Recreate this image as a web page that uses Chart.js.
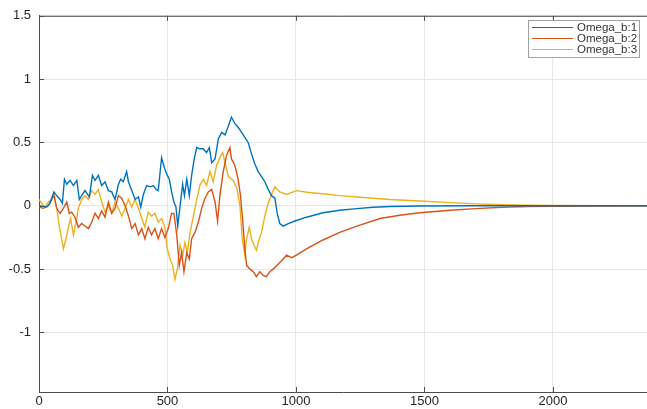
<!DOCTYPE html>
<html>
<head>
<meta charset="utf-8">
<script src="https://cdn.jsdelivr.net/npm/chart.js@4.4.1/dist/chart.umd.min.js"></script>
<style>
  body { margin: 0; background: #fff; }
  canvas { display: block; }
</style>
</head>
<body>
<canvas id="myChart" width="647" height="409"></canvas>
<script>
const seriesNames = ['Omega_b:1', 'Omega_b:2', 'Omega_b:3']
const seriesColors = ['#0072BD', '#D95319', '#EDB120']

const xTicks = [0, 500, 1000, 1500, 2000]
const yTicks = [-1, -0.5, 0, 0.5, 1, 1.5]

// [sample, value]
const omega1 = [
  [0, 0], [30, -0.01], [43, 0.02], [58, 0.11], [69, 0.08], [82, 0.05], [91, 0.02], [99, 0.21],
  [108, 0.17], [121, 0.2], [134, 0.16], [147, 0.2], [157, 0.05], [166, 0.08], [179, 0.12],
  [196, 0.07], [208, 0.24], [218, 0.2], [231, 0.24], [244, 0.16], [257, 0.19], [270, 0.12],
  [283, 0.11], [296, 0.05], [309, 0.17], [318, 0.21], [328, 0.19], [341, 0.27], [348, 0.19],
  [361, 0.12], [374, 0.05], [387, 0.07], [396, -0.01], [406, 0.09], [419, 0.16], [434, 0.15],
  [445, 0.16], [455, 0.13], [464, 0.12], [477, 0.38], [488, 0.3], [497, 0.25], [507, 0.21],
  [516, 0.11], [525, 0.03], [533, -0.01], [540, -0.16], [549, 0], [559, 0.17], [566, 0.08],
  [575, 0.21], [585, 0.08], [594, 0.24], [604, 0.37], [614, 0.46], [626, 0.45], [639, 0.45],
  [652, 0.42], [663, 0.46], [672, 0.34], [685, 0.37], [698, 0.53], [711, 0.58], [724, 0.56],
  [737, 0.63], [749, 0.7], [762, 0.65], [775, 0.62], [795, 0.56], [814, 0.5], [827, 0.41],
  [840, 0.33], [853, 0.27], [866, 0.23], [879, 0.19], [892, 0.13], [905, 0.08], [918, 0.06],
  [927, -0.06], [937, -0.14], [950, -0.16], [970, -0.14], [996, -0.12], [1041, -0.09],
  [1105, -0.055], [1170, -0.035], [1237, -0.022], [1300, -0.012], [1366, -0.006],
  [1480, -0.002], [1700, 0], [2366, 0]
]

const omega2 = [
  [0, -0.01], [17, -0.02], [36, 0], [49, 0.05], [58, 0.08], [69, -0.02], [82, -0.06], [95, -0.02],
  [108, 0.03], [118, -0.06], [127, -0.05], [140, -0.09], [153, -0.17], [166, -0.14], [179, -0.16],
  [192, -0.18], [205, -0.13], [218, -0.06], [231, -0.1], [244, -0.04], [257, -0.09], [270, 0.03],
  [283, -0.06], [296, -0.02], [309, 0.08], [322, 0.06], [335, 0], [348, -0.08], [361, -0.18],
  [374, -0.14], [387, -0.23], [400, -0.18], [412, -0.26], [425, -0.17], [438, -0.23], [451, -0.18],
  [464, -0.26], [477, -0.18], [490, -0.25], [503, -0.18], [516, -0.06], [525, -0.06], [536, -0.23],
  [546, -0.47], [555, -0.37], [564, -0.52], [575, -0.37], [585, -0.42], [594, -0.26], [607, -0.21],
  [620, -0.13], [633, -0.02], [646, 0.06], [659, 0.11], [672, 0.13], [685, 0.03], [695, -0.12],
  [704, 0.08], [717, 0.27], [730, 0.4], [743, 0.46], [749, 0.37], [762, 0.32], [775, 0.21],
  [784, 0.08], [792, -0.1], [801, -0.34], [808, -0.47], [821, -0.5], [834, -0.52], [846, -0.56],
  [859, -0.52], [872, -0.55], [885, -0.56], [898, -0.52], [911, -0.5], [931, -0.46], [950, -0.42],
  [963, -0.39], [983, -0.41], [1002, -0.39], [1041, -0.34], [1105, -0.27], [1170, -0.21],
  [1237, -0.16], [1327, -0.1], [1404, -0.075], [1482, -0.055], [1600, -0.035], [1700, -0.022],
  [1800, -0.012], [1900, -0.006], [2000, -0.003], [2200, -0.001], [2366, 0]
]

const omega3 = [
  [0, 0.05], [10, 0.02], [23, -0.01], [36, 0.03], [49, 0.05], [58, 0.09], [69, -0.02], [79, -0.16],
  [88, -0.26], [95, -0.34], [105, -0.26], [114, -0.17], [123, -0.1], [134, -0.23], [144, -0.13],
  [153, -0.02], [166, 0.05], [179, 0.08], [192, 0.05], [205, 0.12], [218, 0.09], [231, 0.13],
  [244, 0.03], [257, -0.05], [270, 0], [283, -0.06], [296, 0.03], [309, -0.02], [322, -0.08],
  [335, -0.02], [348, 0.05], [361, -0.01], [374, 0.05], [387, -0.02], [400, -0.1], [412, -0.17],
  [425, -0.05], [438, -0.08], [451, -0.06], [464, -0.13], [477, -0.1], [490, -0.17], [499, -0.34],
  [510, -0.42], [520, -0.47], [529, -0.58], [538, -0.5], [549, -0.31], [559, -0.39], [568, -0.29],
  [577, -0.37], [588, -0.21], [601, -0.08], [614, 0.05], [626, 0.16], [639, 0.21], [652, 0.16],
  [665, 0.27], [678, 0.19], [691, 0.32], [704, 0.38], [715, 0.42], [724, 0.34], [737, 0.23],
  [756, 0.2], [771, 0.13], [782, 0], [791, -0.26], [801, -0.39], [808, -0.26], [818, -0.17],
  [827, -0.26], [836, -0.31], [846, -0.35], [857, -0.26], [866, -0.21], [879, -0.08], [892, 0.02],
  [905, 0.09], [918, 0.15], [937, 0.11], [963, 0.09], [1002, 0.12], [1050, 0.105], [1105, 0.095],
  [1170, 0.08], [1237, 0.07], [1300, 0.06], [1366, 0.05], [1482, 0.038], [1600, 0.025],
  [1700, 0.015], [1800, 0.008], [1900, 0.004], [2000, 0.002], [2200, 0], [2366, 0]
]

const seriesData = [omega1, omega2, omega3]

const axisColor = '#4d4d4d'
const gridColor = '#e6e6e6'
const font = { family: "'Liberation Sans', Arial, sans-serif", size: 13 }

// MATLAB style box: top border, inward tick marks, legend inside the axes
const boxPlugin = {
  id: 'box',
  afterDraw(chart) {
    const { ctx, chartArea: a, scales } = chart
    ctx.save()
    ctx.strokeStyle = axisColor
    ctx.lineWidth = 1
    ctx.beginPath()
    ctx.moveTo(a.left, a.top + 0.5)
    ctx.lineTo(a.right, a.top + 0.5)
    xTicks.forEach(v => {
      const x = Math.round(scales.x.getPixelForValue(v)) + 0.5
      ctx.moveTo(x, a.bottom)
      ctx.lineTo(x, a.bottom - 5)
      ctx.moveTo(x, a.top)
      ctx.lineTo(x, a.top + 5)
    })
    yTicks.forEach(v => {
      const y = Math.round(scales.y.getPixelForValue(v)) + 0.5
      ctx.moveTo(a.left, y)
      ctx.lineTo(a.left + 5, y)
    })
    ctx.stroke()

    // legend
    const lx = 528, ly = 20, lw = 111, lh = 37
    ctx.fillStyle = '#fff'
    ctx.fillRect(lx, ly, lw, lh)
    ctx.strokeStyle = '#a0a0a0'
    ctx.strokeRect(lx + 0.5, ly + 0.5, lw, lh)
    ctx.font = "11.5px 'Liberation Sans', Arial, sans-serif"
    ctx.textBaseline = 'middle'
    chart.data.datasets.forEach((ds, i) => {
      const y = ly + 7.5 + i * 11
      ctx.strokeStyle = ds.borderColor
      ctx.lineWidth = 1.2
      ctx.beginPath()
      ctx.moveTo(lx + 4, y)
      ctx.lineTo(lx + 45, y)
      ctx.stroke()
      ctx.fillStyle = '#333'
      ctx.fillText(ds.label, lx + 49, y)
    })
    ctx.restore()
  }
}

new Chart(document.getElementById('myChart'), {
  type: 'line',
  data: {
    datasets: seriesNames.map((name, i) => ({
      label: name,
      data: seriesData[i].map(([x, y]) => ({ x, y })),
      borderColor: seriesColors[i],
      borderWidth: 1.4,
      pointRadius: 0,
      tension: 0,
      fill: false
    }))
  },
  options: {
    responsive: false,
    animation: false,
    devicePixelRatio: 1,
    layout: { padding: { top: 15, right: 0, left: 0, bottom: 0 } },
    plugins: { legend: { display: false }, tooltip: { enabled: false } },
    scales: {
      x: {
        type: 'linear',
        min: 0,
        max: 2366,
        afterFit(scale) { scale.height = 17 },
        afterBuildTicks(scale) { scale.ticks = xTicks.map(v => ({ value: v })) },
        ticks: { color: '#262626', font, padding: 2, maxRotation: 0, callback: v => String(v) },
        grid: { color: gridColor, drawTicks: false },
        border: { color: axisColor, width: 1 }
      },
      y: {
        type: 'linear',
        min: -1.47,
        max: 1.5,
        afterFit(scale) { scale.width = 39 },
        afterBuildTicks(scale) { scale.ticks = yTicks.map(v => ({ value: v })) },
        ticks: { color: '#262626', font, padding: 8, callback: v => String(v) },
        grid: { color: gridColor, drawTicks: false },
        border: { color: axisColor, width: 1 }
      }
    }
  },
  plugins: [boxPlugin]
})
</script>
</body>
</html>
